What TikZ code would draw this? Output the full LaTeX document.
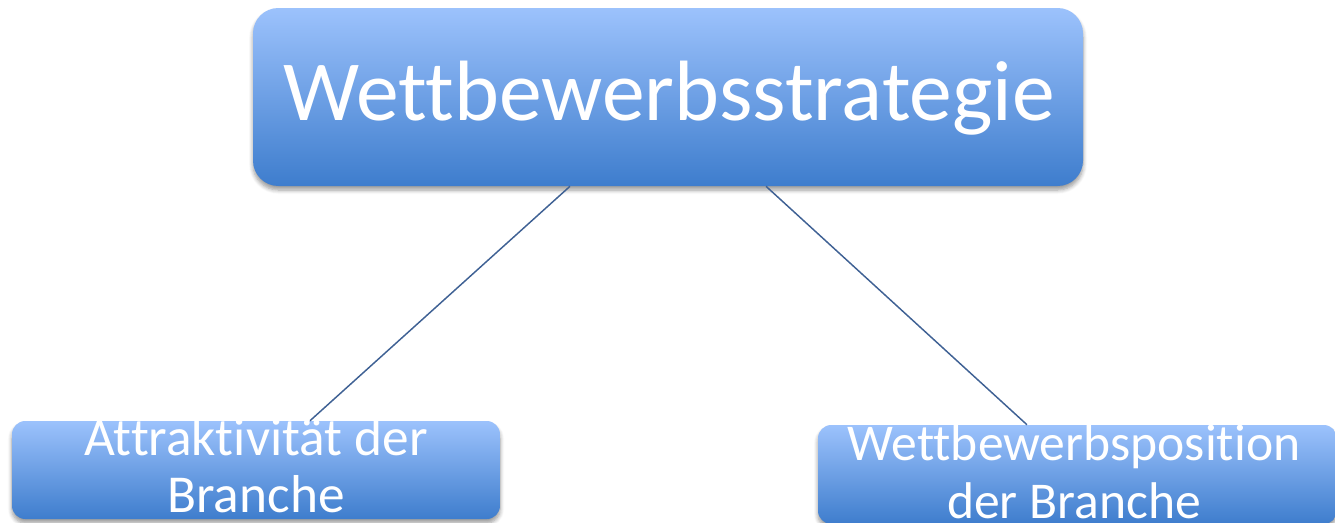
\documentclass[tikz,border=0pt]{standalone}
\usepackage{fontspec}
\setmainfont{Carlito}[Ligatures=NoCommon]
\usetikzlibrary{shadows.blur}
\definecolor{boxtop}{HTML}{9CC2FC}
\definecolor{boxmid}{HTML}{7FAAEE}
\definecolor{boxbot}{HTML}{3E7DCD}
\definecolor{linkcol}{HTML}{3F6194}
\tikzset{
  stratbox/.style={draw=none, inner sep=0pt, top color=boxtop, middle color=boxmid,
    bottom color=boxbot,
    blur shadow={shadow xshift=0pt, shadow yshift=-3pt, shadow blur steps=6,
      shadow blur radius=3pt, shadow opacity=40}},
  link/.style={draw=linkcol, line width=1.1pt},
  boxtext/.style={text=white, inner sep=0pt, align=center}
}
\begin{document}
\begin{tikzpicture}[x=0.75pt, y=-0.75pt]
  \useasboundingbox (0,0) rectangle (1335,522);
  \clip (0,0) rectangle (1335,522);

  % boxes
  \node[stratbox, rounded corners=19pt, minimum width=622.5pt, minimum height=133.5pt]
    (top) at (668,97) {};
  \node[stratbox, rounded corners=10pt, minimum width=366pt, minimum height=73.5pt]
    (left) at (256,470) {};
  \node[stratbox, rounded corners=10pt, minimum width=389.25pt, minimum height=74.25pt]
    (right) at (1077.5,474.5) {};

  % connectors
  \draw[link] ([xshift=-73.5pt]top.south) -- ([xshift=40.5pt]left.north);
  \draw[link] ([xshift=73.5pt]top.south) -- ([xshift=-37.9pt]right.north);

  % labels (base anchor sits on the last line)
  \node[boxtext, anchor=base, font=\fontsize{64.2}{77}\selectfont]
    (toptext) at (669,120) {Wettbewerbsstrategie};
  \node[boxtext, anchor=base, font=\fontsize{40}{42.75}\selectfont]
    (lefttext) at (256,512) {Attraktivität der\\Branche};
  \node[boxtext, anchor=base, font=\fontsize{38.7}{43.5}\selectfont]
    (righttext) at (1074,518) {Wettbewerbsposition\\der Branche};
\end{tikzpicture}
\end{document}
